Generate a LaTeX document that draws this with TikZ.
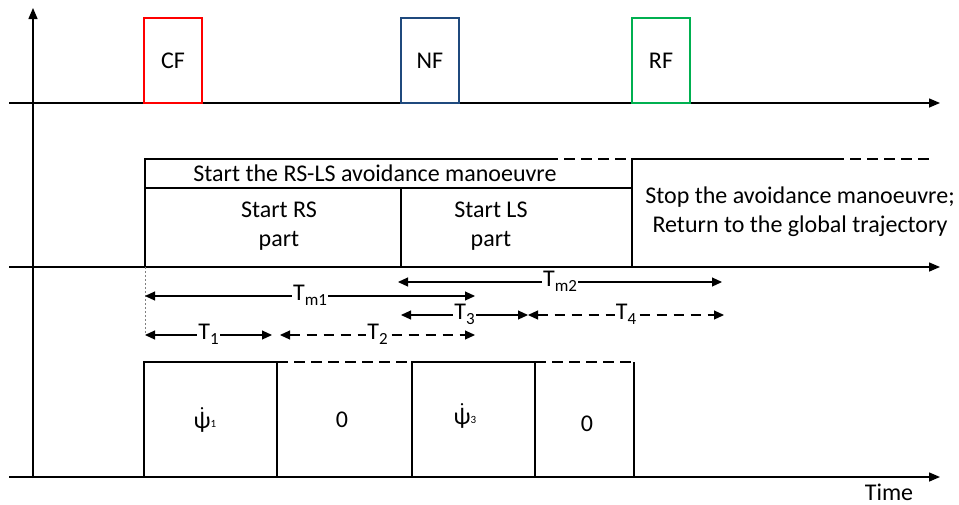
\documentclass[tikz,border=0pt]{standalone}
\usepackage{fontspec}
\setmainfont{Carlito}
\usetikzlibrary{arrows.meta}
\newcommand{\lowsub}[1]{\raisebox{-0.45ex}{\fontsize{8.5}{9}\selectfont #1}}
\newcommand{\psidot}[1]{$\dot{\mbox{ψ}}$\raisebox{0.1ex}{\fontsize{5.5}{6}\selectfont #1}}
\begin{document}
\begin{tikzpicture}[x=0.5pt,y=-0.5pt,
  axis/.style={line width=0.75pt,-{Triangle[length=5.5pt,width=4.5pt]}},
  frame/.style={line width=0.6pt},
  frameDash/.style={line width=0.6pt,dash pattern=on 5.5pt off 3pt},
  flag/.style={line width=1.3pt,minimum width=29pt,minimum height=42.5pt,inner sep=0pt,font=\fontsize{12}{14}\selectfont},
  dim/.style={line width=0.55pt,{Triangle[length=5pt,width=4.5pt]}-{Triangle[length=5pt,width=4.5pt]}},
  dimDash/.style={dim,dash pattern=on 5pt off 3.5pt},
  lbl/.style={fill=white,inner sep=0.6pt,anchor=mid,font=\fontsize{12}{14}\selectfont},
  txt/.style={align=center,inner sep=0pt,font=\fontsize{12}{14.5}\selectfont},
]
\path[use as bounding box] (0,0) rectangle (959,504);

% axes
\coordinate (yb) at (33,478);
\coordinate (yt) at (33,8);
\draw[axis] (yb) -- (yt);
\coordinate (a1s) at (9,103);   \coordinate (a1e) at (940,103);
\coordinate (a2s) at (9,267);   \coordinate (a2e) at (940,267);
\coordinate (a3s) at (9,477);   \coordinate (a3e) at (940,477);
\draw[axis] (a1s) -- (a1e);
\draw[axis] (a2s) -- (a2e);
\draw[axis] (a3s) -- (a3e);
\node[txt] (time) at (889,492) {Time};

% frame flags
\node[flag,draw={rgb,255:red,255;green,0;blue,0}] (cf) at (173,60.5) {CF};
\node[flag,draw={rgb,255:red,31;green,73;blue,125}] (nf) at (430,60.5) {NF};
\node[flag,draw={rgb,255:red,0;green,176;blue,80}] (rf) at (661,60.5) {RF};

% manoeuvre phases
\coordinate (m1) at (145,159);
\coordinate (m2) at (547,159);
\coordinate (m3) at (632,159);
\coordinate (m4) at (833,159);
\coordinate (m5) at (933,159);
\draw[frame] (145,267) -- (m1) -- (m2);
\draw[frameDash] (m2) -- (m3);
\draw[frame] (632,267) -- (m3) -- (m4);
\draw[frameDash] (m4) -- (m5);
\draw[frame] (145,188) -- (632,188);
\draw[frame] (401,188) -- (401,267);
\node[txt] (avoid) at (375,173) {Start the RS-LS avoidance manoeuvre};
\node[txt] (rs) at (279,226) {Start RS\\part};
\node[txt] (ls) at (491,226) {Start LS\\part};
\node[txt] (stop) at (800,212) {Stop the avoidance manoeuvre;\\Return to the global trajectory};

% time intervals
\draw[line width=0.3pt,dash pattern=on 1pt off 1pt,gray] (145,267) -- (145,335);
\coordinate (tm2a) at (398,282); \coordinate (tm2b) at (722,282);
\coordinate (tm1a) at (145,296); \coordinate (tm1b) at (475,296);
\coordinate (t3a) at (401,315);  \coordinate (t3b) at (528,315);
\coordinate (t4a) at (528,315);  \coordinate (t4b) at (724,315);
\coordinate (t1a) at (145,335);  \coordinate (t1b) at (272,335);
\coordinate (t2a) at (280,335);  \coordinate (t2b) at (475,335);
\draw[dim] (tm2a) -- node[lbl] {T\lowsub{m2}} (tm2b);
\draw[dim] (tm1a) -- node[lbl] {T\lowsub{m1}} (tm1b);
\draw[dim] (t3a) -- node[lbl] {T\lowsub{3}} (t3b);
\draw[dimDash] (t4a) -- node[lbl] {T\lowsub{4}} (t4b);
\draw[dim] (t1a) -- node[lbl] {T\lowsub{1}} (t1b);
\draw[dimDash] (t2a) -- node[lbl] {T\lowsub{2}} (t2b);

% yaw-rate commands
\draw[frame] (144,476) -- (144,362) -- (277,362) -- (277,476);
\draw[frameDash] (277,362) -- (412,362);
\draw[frame] (412,476) -- (412,362) -- (535,362) -- (535,476);
\draw[frameDash] (535,362) -- (634,362);
\draw[frame] (634,362) -- (634,476);
\node[txt] (psi1) at (205,420) {\psidot{1}};
\node[txt] (zero1) at (342,420) {0};
\node[txt] (psi3) at (465,416) {\psidot{3}};
\node[txt] (zero2) at (587,424) {0};
\end{tikzpicture}
\end{document}
